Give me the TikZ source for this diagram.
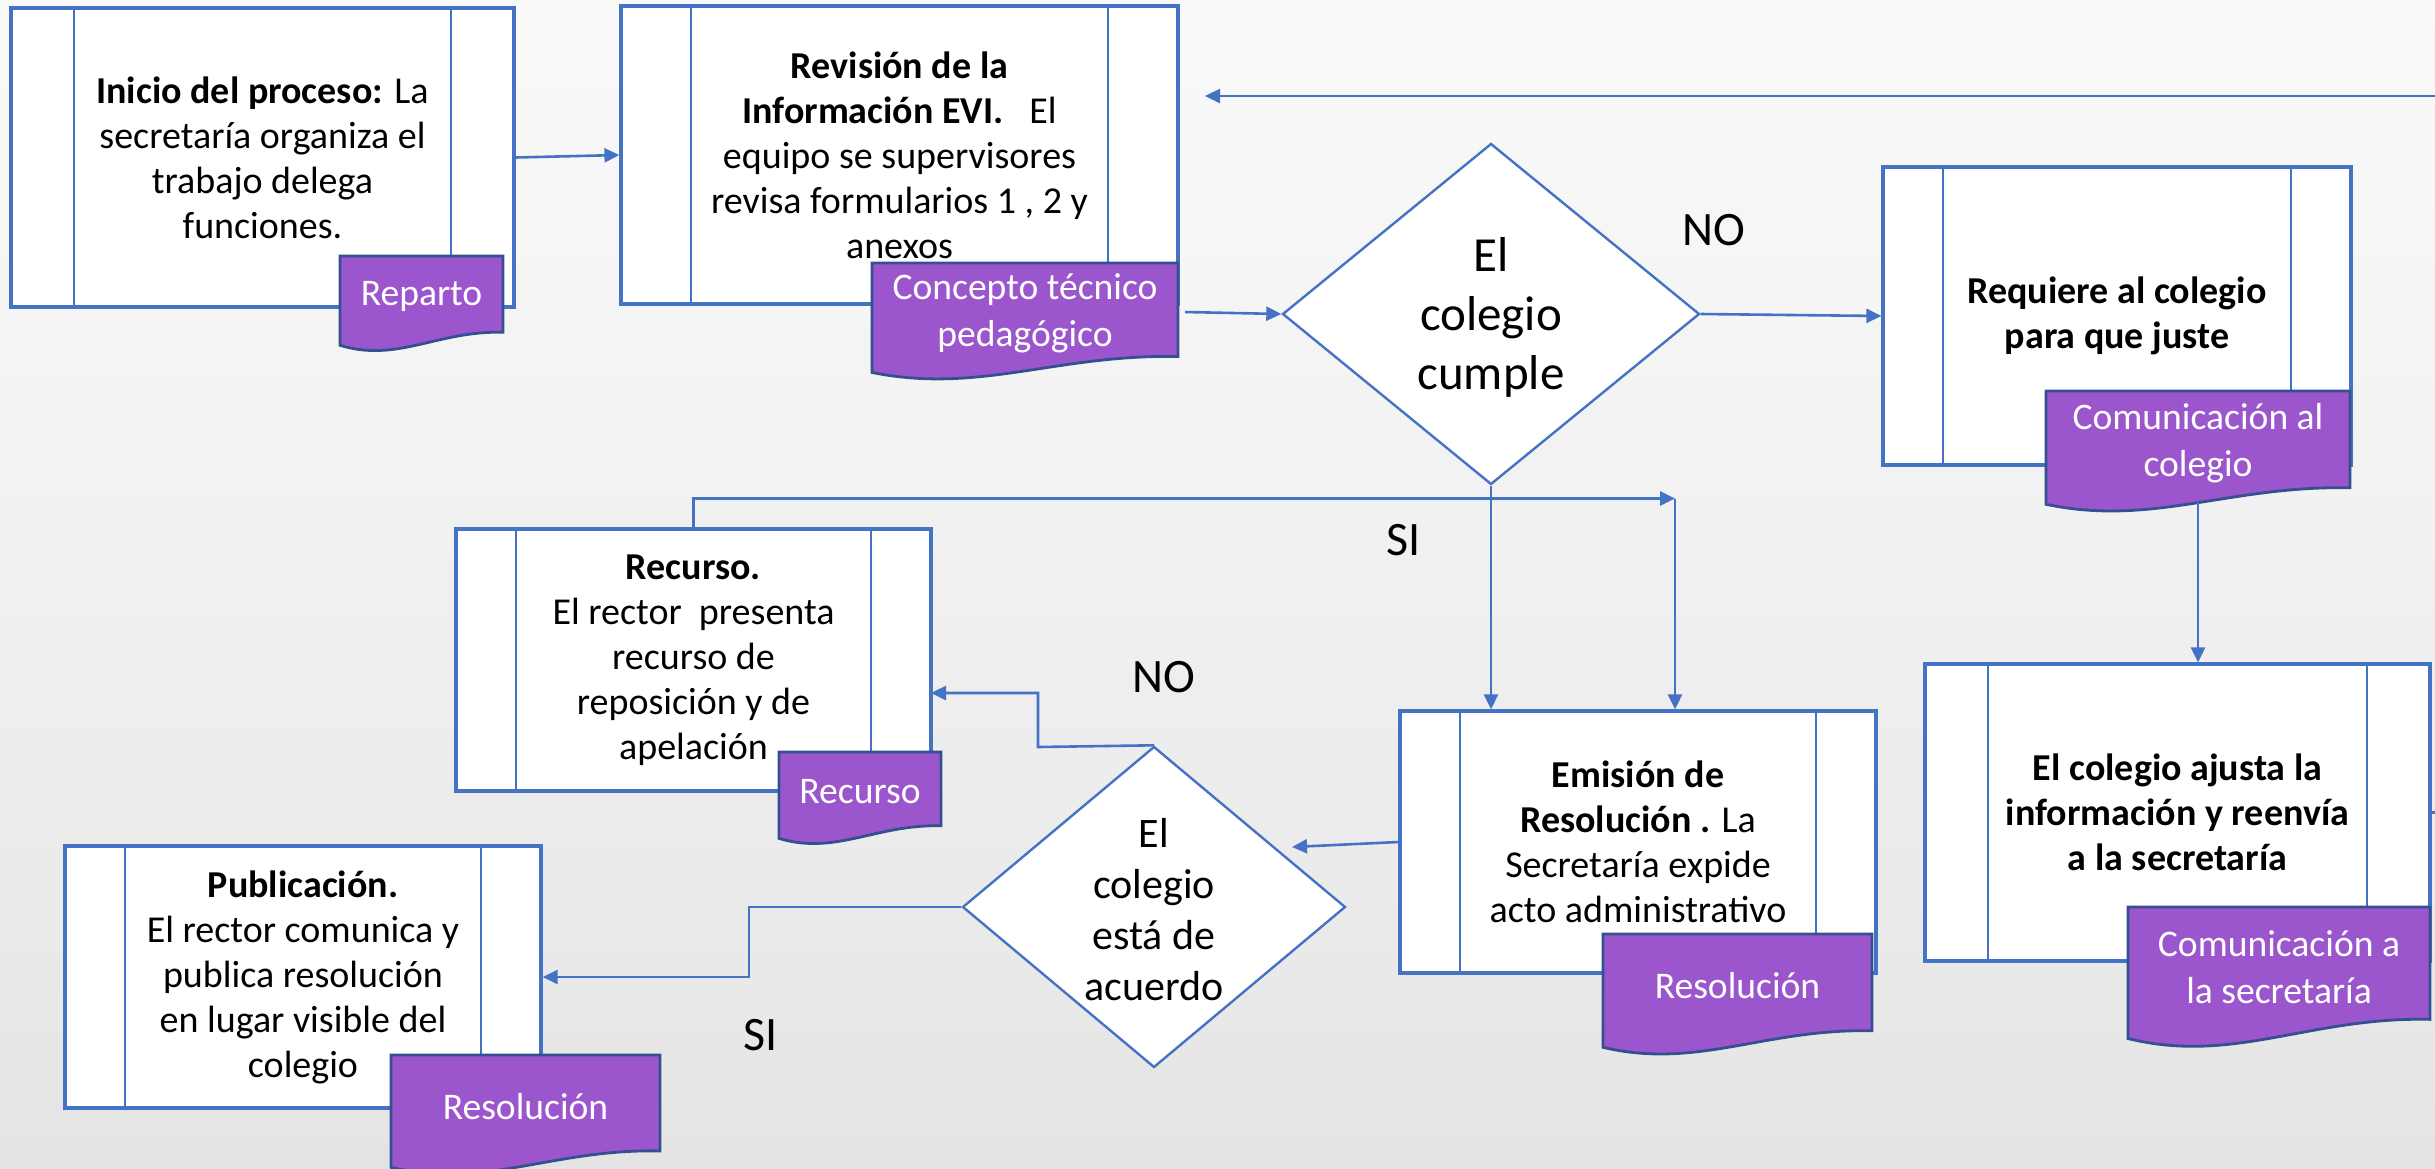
\documentclass[tikz,border=0pt]{standalone}
\usepackage{fontspec}
\setmainfont{Carlito}
\usetikzlibrary{shapes.geometric,arrows.meta,calc}
\definecolor{boxblue}{HTML}{4472C4}
\definecolor{docfill}{HTML}{9B55CD}
\definecolor{docline}{HTML}{34508F}
\definecolor{bgbot}{HTML}{D4D4D4}
\definecolor{bglow}{HTML}{EAEAEA}
\definecolor{bgmid}{HTML}{FAFAFA}
\definecolor{bgtop}{HTML}{EDEDED}
\pgfdeclareverticalshading{bgv}{100bp}{color(0bp)=(bgbot); color(35bp)=(bglow); color(75bp)=(bgmid); color(100bp)=(bgtop)}
\newcommand{\boxfont}{\fontsize{19}{22.5}\selectfont}
\newcommand{\docsh}[6]{%
  \draw[docshape] (#2,#3) -- (#4,#3) -- (#4,{#3+0.82*(#5-#3)})
    .. controls ({#2+0.6*(#4-#2)},{#3+0.80*(#5-#3)}) and ({#2+0.35*(#4-#2)},{#3+1.15*(#5-#3)}) ..
    (#2,{#3+0.96*(#5-#3)}) -- cycle;
  \node[doctext] (#1) at ({(#2+#4)/2},{#3+0.44*(#5-#3)}) {#6};
  \coordinate (#1-r) at (#4,{#3+0.43*(#5-#3)});
  \coordinate (#1-b) at ({(#2+#4)/2},{#3+0.94*(#5-#3)});
}
\tikzset{
  procbox/.style={rectangle, draw=boxblue, fill=white, line width=1.6pt, inner sep=0pt,
    align=center, font=\boxfont,
    path picture={\draw[boxblue,line width=1pt]
      ([xshift=#1]path picture bounding box.north west) -- ([xshift=#1]path picture bounding box.south west)
      ([xshift=-#1]path picture bounding box.north east) -- ([xshift=-#1]path picture bounding box.south east);}},
  docshape/.style={fill=docfill, draw=docline, line width=1.4pt},
  doctext/.style={text=white, align=center, inner sep=0pt, font=\fontsize{18.8}{23.5}\selectfont},
  dia/.style={diamond, draw=boxblue, fill=white, line width=1.2pt, inner sep=0pt},
  lbl/.style={inner sep=0pt, font=\fontsize{24}{28}\selectfont},
  conn/.style={draw=boxblue, line width=1.3pt},
  arr/.style={conn, -{Triangle[length=7.5pt,width=7pt]}},
}
\begin{document}
\begin{tikzpicture}[x=0.5pt,y=-0.5pt]
\path[use as bounding box] (0,0) rectangle (2435,1168);
\shade[shading=bgv] (0,0) rectangle (2435,1168);
\clip (0,0) rectangle (2435,1168);

% process boxes
\node[procbox=31.5pt, minimum width=251.5pt, minimum height=149.5pt] (b1) at (262.5,157.5)
  {\textbf{Inicio del proceso:} La\\secretaría organiza el\\trabajo delega\\funciones.};
\node[procbox=35pt, minimum width=278.5pt, minimum height=149pt] (b2) at (899.5,155)
  {\textbf{Revisión de la}\\\textbf{Información EVI.}\ \ \ El\\equipo se supervisores\\revisa formularios 1 , 2 y\\anexos};
\node[procbox=30pt, minimum width=234pt, minimum height=149pt] (req) at (2117,316)
  {\textbf{Requiere al colegio}\\\textbf{para que juste}};
\node[procbox=30pt, minimum width=237.5pt, minimum height=131pt] (rec) at (693.5,660)
  {\textbf{Recurso.}\\El rector\ \ presenta\\recurso de\\reposición y de\\apelación};
\node[procbox=30pt, minimum width=238pt, minimum height=131pt] (emi) at (1638,842)
  {\textbf{Emisión de}\\\textbf{Resolución .} La\\Secretaría expide\\acto administrativo};
\node[procbox=31.5pt, minimum width=252.5pt, minimum height=148.5pt] (ajs) at (2177.5,812.5)
  {\textbf{El colegio ajusta la}\\\textbf{información y reenvía}\\\textbf{a la secretaría}};
\node[procbox=30pt, minimum width=238pt, minimum height=131pt] (pub) at (303,977)
  {\textbf{Publicación.}\\El rector comunica y\\publica resolución\\en lugar visible del\\colegio};

% decisions
\node[dia, minimum width=208.5pt, minimum height=170.5pt,
  label={[align=center, font=\fontsize{24.5}{29.5}\selectfont, yshift=-1.5pt]center:El\\colegio\\cumple}] (d1) at (1491,314) {};
\node[dia, minimum width=191.5pt, minimum height=160.5pt,
  label={[align=center, font=\fontsize{21}{25.5}\selectfont, yshift=-1.5pt]center:El\\colegio\\está de\\acuerdo}] (d2) at (1154,907) {};

% documents
\docsh{dRep}{340}{256}{503}{349}{Reparto}
\docsh{dCon}{872}{263}{1178}{377}{Concepto técnico\\pedagógico}
\docsh{dCol}{2046}{391}{2350}{509}{Comunicación al\\colegio}
\docsh{dRec}{779}{752}{941}{842}{Recurso}
\docsh{dRes}{1603}{934}{1872}{1052}{Resolución}
\docsh{dSec}{2128}{907}{2430}{1044}{Comunicación a\\la secretaría}
\docsh{dPub}{391}{1055}{660}{1172}{Resolución}

% connectors
\coordinate (jn) at (1675,498.5);
\coordinate (d2in) at (1292,847);
\coordinate (recin) at (931,693);
\coordinate (fb) at (1205,96);
\draw[arr] (b1.east) -- (b2.west);
\draw[arr] (dCon-r) ++(7,0) -- (d1.west);
\draw[arr] (d1.east) -- (req.west);
\draw[arr] (d1.south) -- (d1.south |- emi.north);
\draw[arr] (rec.north) |- (jn);
\draw[arr] (jn) -- (jn |- emi.north);
\draw[arr] (dCol-b) -- (dCol-b |- ajs.north);
\draw[arr] (emi.west) -- (d2in);
\draw[arr] (d2.north) -- (1038,747) |- (recin);
\draw[arr] (d2.west) -- (749,907) |- (pub.east);
\draw[arr] (ajs.east) -- ++(30,0) |- (fb);

% labels
\node[lbl] (no1) at (1714,230) {NO};
\node[lbl] (si1) at (1404,540) {SI};
\node[lbl] (no2) at (1164,677) {NO};
\node[lbl] (si2) at (761,1035) {SI};
\end{tikzpicture}
\end{document}
